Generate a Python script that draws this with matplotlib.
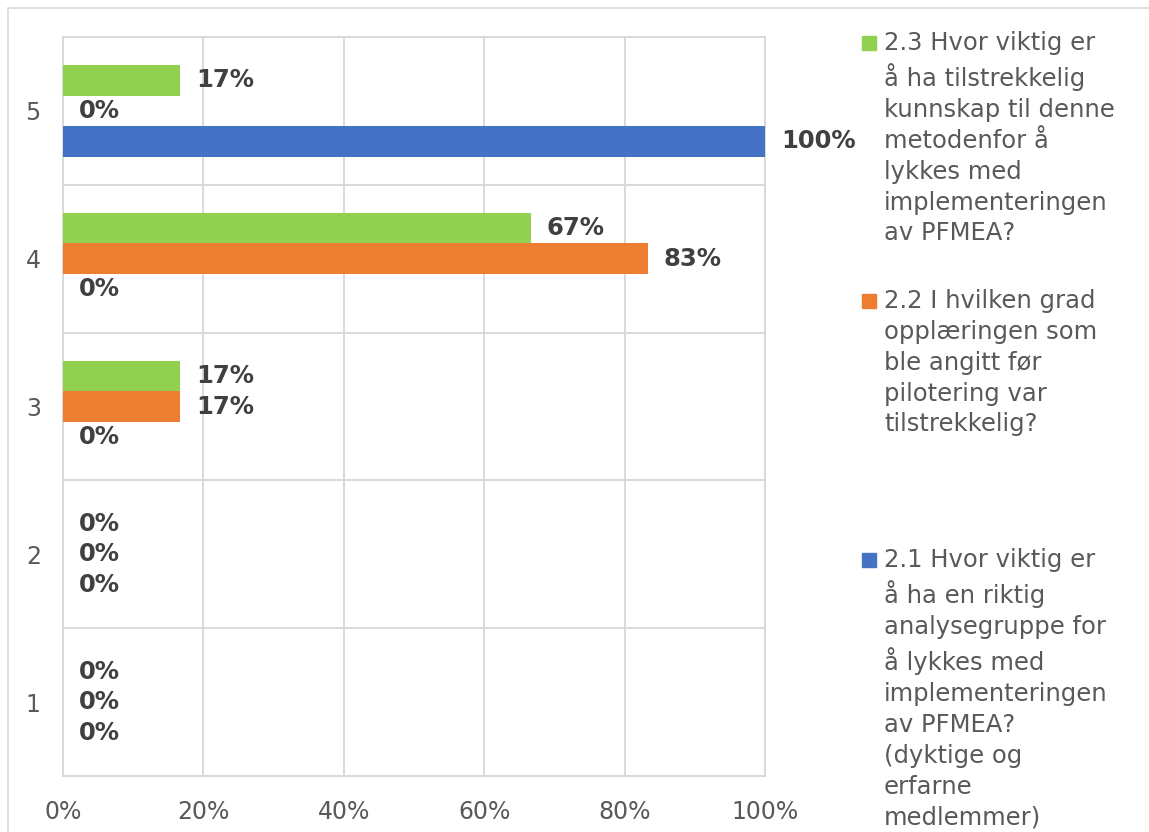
import numpy as np
import matplotlib.pyplot as plt
from matplotlib.patches import Rectangle
from matplotlib.ticker import PercentFormatter

plt.rcParams["font.family"] = ["DejaVu Sans"]

# survey answers per score (1-5), share of respondents
categories = ["1", "2", "3", "4", "5"]
q21 = [0, 0, 0, 0, 1.0]
q22 = [0, 0, 0.1667, 0.8333, 0]
q23 = [0, 0, 0.1667, 0.6667, 0.1667]

label_21 = ("2.1 Hvor viktig er\nå ha en riktig\nanalysegruppe for\nå lykkes med\n"
            "implementeringen\nav PFMEA?\n(dyktige og\nerfarne\nmedlemmer)")
label_22 = ("2.2 I hvilken grad\nopplæringen som\nble angitt før\n"
            "pilotering var\ntilstrekkelig?")
label_23 = ("2.3 Hvor viktig er\nå ha tilstrekkelig\nkunnskap til denne\n"
            "metodenfor å\nlykkes med\nimplementeringen\nav PFMEA?")

blue = "#4472C4"
orange = "#ED7D31"
green = "#92D050"
grid_col = "#D9D9D9"
text_col = "#595959"

W, H = 1149, 832
fig = plt.figure(figsize=(W / 100, H / 100), dpi=100)
ax = fig.add_axes([63 / W, 1 - 776 / H, (765 - 63) / W, (776 - 37) / H])

y = np.arange(1, len(categories) + 1)
h = 0.206
series = [(q21, blue, -h), (q22, orange, 0), (q23, green, h)]
for vals, col, off in series:
    ax.barh(y + off, vals, height=h, color=col, zorder=3)
    for yy, v in zip(y + off, vals):
        ax.annotate(f"{v:.0%}", xy=(v, yy), xytext=(11.5, 0),
                    textcoords="offset points", ha="left", va="center",
                    fontsize=17.5, fontweight="bold", color="#404040")

ax.set_xlim(0, 1)
ax.set_ylim(0.5, len(categories) + 0.5)
ax.set_xticks(np.arange(0, 1.01, 0.2))
ax.xaxis.set_major_formatter(PercentFormatter(1.0, decimals=0))
ax.set_yticks(y)
ax.set_yticklabels(categories)
ax.set_yticks(np.arange(0.5, len(categories) + 1, 1), minor=True)
ax.tick_params(which="both", length=0, labelsize=17, colors=text_col)
ax.tick_params(axis="x", pad=17)
ax.tick_params(axis="y", pad=16)
ax.grid(axis="x", which="major", color=grid_col, lw=1.4, zorder=0)
ax.grid(axis="y", which="minor", color=grid_col, lw=1.4, zorder=0)
for sp in ax.spines.values():
    sp.set_color(grid_col)
    sp.set_linewidth(1.4)

# chart frame
fig.add_artist(Rectangle((8 / W, -0.1), 1.2, 1 - 8 / H + 0.1,
                         transform=fig.transFigure, fill=False,
                         ec=grid_col, lw=1.2))

# legend on the right
legend_items = [(label_23, green, 43), (label_22, orange, 301), (label_21, blue, 560)]
for text, col, yc in legend_items:
    fig.add_artist(Rectangle((862 / W, 1 - (yc + 7) / H), 14 / W, 14 / H,
                             transform=fig.transFigure, color=col))
    fig.text(884 / W, 1 - (yc - 12) / H, text, ha="left", va="top",
             fontsize=17.5, color=text_col, linespacing=1.36)

fig.savefig("out.png", dpi=100)
